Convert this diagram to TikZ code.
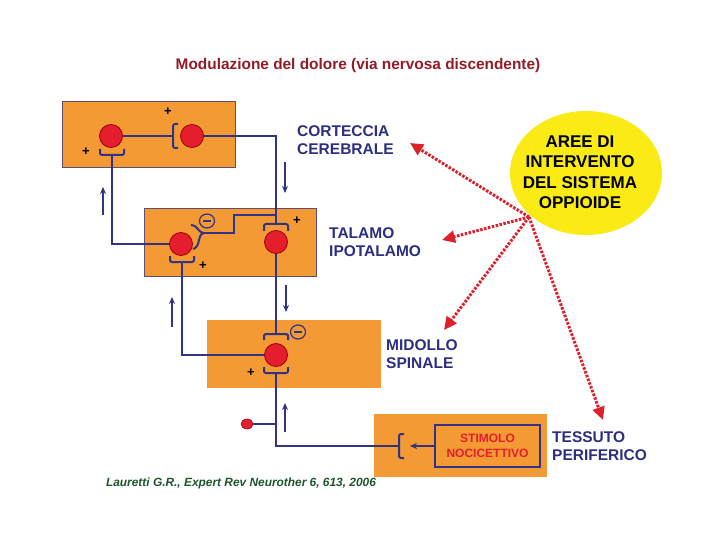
\documentclass[tikz,border=0pt]{standalone}
\usepackage{fontspec}
\setmainfont{Liberation Sans}
\usetikzlibrary{shapes.geometric,arrows.meta}
\definecolor{orng}{RGB}{243,154,52}
\definecolor{navy}{RGB}{50,50,135}
\definecolor{nred}{RGB}{228,30,45}
\definecolor{lblue}{RGB}{43,47,126}
\definecolor{titlered}{RGB}{145,28,40}
\definecolor{cgreen}{RGB}{30,85,45}
\definecolor{yel}{RGB}{250,235,20}
\definecolor{dred}{RGB}{222,32,42}
\begin{document}
\begin{tikzpicture}[x=1pt,y=-1pt,
  box/.style={fill=orng},
  boxb/.style={fill=orng,draw=navy!75!orng,line width=1pt},
  neuron/.style={circle,fill=nred,draw=red!60!black,line width=0.8pt,minimum size=23pt,inner sep=0pt},
  wire/.style={draw=navy,line width=2pt},
  brk/.style={draw=navy,line width=2pt,rounded corners=2pt},
  flow/.style={draw=navy,line width=1.5pt,-{Stealth[length=7pt,width=6pt]}},
  plus/.style={font=\bfseries\fontsize{13}{13}\selectfont,inner sep=0pt},
  minus/.style={ellipse,draw=navy,line width=1.2pt,minimum width=15pt,minimum height=14pt,inner sep=0pt},
  minusbar/.style={draw=navy,line width=2pt},
  lbl/.style={anchor=west,align=left,text=lblue,font=\fontsize{15.5}{18}\selectfont\bfseries,inner sep=0pt},
  opparrow/.style={draw=dred,line width=3pt,dash pattern=on 2.5pt off 1.5pt,-{Triangle[length=13pt,width=12pt]}}
]
\useasboundingbox (0,0) rectangle (720,540);
\fill[white] (0,0) rectangle (720,540);

% title
\node[font=\fontsize{15.4}{17}\selectfont\bfseries,text=titlered] (title) at (358,66) {Modulazione del dolore (via nervosa discendente)};

% boxes
\fill[boxb] (62,102) rectangle (235,168);
\fill[boxb] (144,209) rectangle (316,276);
\fill[box] (207,320) rectangle (381,388);
\fill[box] (374,414) rectangle (547,477);

% neurons
\node[neuron] (c1a) at (111,136) {};
\node[neuron] (c1b) at (192,136) {};
\node[neuron] (c2a) at (181,244) {};
\node[neuron] (c2b) at (276,242) {};
\node[neuron] (c3) at (276,355) {};
\node[ellipse,fill=nred,draw=red!60!black,line width=0.6pt,minimum width=12pt,minimum height=10pt,inner sep=0pt] (dot) at (247,424) {};

% box 1
\draw[wire] (c1a.east) -- (173,136);
\draw[brk] (178,124) -- (173,124) -- (173,148) -- (178,148);
\draw[brk] (100,149) -- (100,155) -- (124,155) -- (124,149);
\coordinate (b1) at (112,155);
\draw[wire] (b1) |- (c2a.west);
\coordinate (b2top) at (276,224);
\draw[wire] (c1b.east) -| (b2top);

% box 2
\draw[brk] (264,231) -- (264,224) -- (288,224) -- (288,231);
\draw[draw=navy,line width=2pt] (191,225) .. controls (199,226) and (197,232) .. (204,233) .. controls (197,234) and (201,247) .. (193,249);
\coordinate (inh) at (204,233);
\coordinate (jn) at (276,215);
\draw[wire] (inh) -- (234,233) -- (234,215) -- (jn);
\node[minus] (m1) at (207,221) {};
\draw[minusbar] ([xshift=-4pt]m1.center) -- ([xshift=4pt]m1.center);
\draw[brk] (170,256) -- (170,262) -- (194,262) -- (194,256);
\coordinate (b3) at (182,262);
\draw[wire] (b3) |- (c3.west);
\coordinate (b4top) at (276,334);
\draw[wire] (c2b.south) -- (b4top);

% box 3
\draw[brk] (264,340) -- (264,334) -- (288,334) -- (288,340);
\node[minus] (m2) at (298,332) {};
\draw[minusbar] ([xshift=-4pt]m2.center) -- ([xshift=4pt]m2.center);
\draw[brk] (264,367) -- (264,373) -- (288,373) -- (288,367);
\coordinate (b5) at (276,373);
\coordinate (b6) at (399,446);
\draw[wire] (b5) |- (b6);
\coordinate (jd) at (276,424);
\draw[wire] (dot.east) -- (jd);

% box 4
\draw[brk] (404,434) -- (399,434) -- (399,458) -- (404,458);
\node[draw=navy,line width=2pt,minimum width=105pt,minimum height=42pt,inner sep=0pt,align=center,text=nred,font=\bfseries\fontsize{12}{15}\selectfont] (stim) at (487.5,446) {STIMOLO\\NOCICETTIVO};
\coordinate (ain) at (410,446);
\draw[flow] (stim.west) -- (ain);

% plus signs
\node[plus] at (168,112) {+};
\node[plus] at (86,152) {+};
\node[plus] at (297,221) {+};
\node[plus] at (203,266) {+};
\node[plus] at (251,373) {+};

% flow arrows
\draw[flow] (103,215) -- (103,187);
\draw[flow] (285,162) -- (285,193);
\draw[flow] (172,327) -- (172,297);
\draw[flow] (286,285) -- (286,312);
\draw[flow] (285,432) -- (285,403);

% labels
\node[lbl] (lc) at (297,140) {CORTECCIA\\CEREBRALE};
\node[lbl] (lt) at (329,242) {TALAMO\\IPOTALAMO};
\node[lbl] (lm) at (386,354) {MIDOLLO\\SPINALE};
\node[lbl] (lp) at (552,446) {TESSUTO\\PERIFERICO};

% opioid system
\node[ellipse,fill=yel,minimum width=152pt,minimum height=124pt,inner sep=0pt] (opp) at (586,173) {};
\node[align=center,font=\bfseries\fontsize{17}{20.5}\selectfont,inner sep=0pt] (opptxt) at (580,172) {AREE DI\\INTERVENTO\\DEL SISTEMA\\OPPIOIDE};
\coordinate (o) at (529,217);
\coordinate (t1) at (410,143);
\coordinate (t2) at (442,240);
\coordinate (t3) at (444,330);
\coordinate (t4) at (603,420);
\draw[opparrow] (o) -- (t1);
\draw[opparrow] (o) -- (t2);
\draw[opparrow] (o) -- (t3);
\draw[opparrow] (o) -- (t4);

% citation
\node[font=\itshape\bfseries\fontsize{11.9}{13}\selectfont,text=cgreen] (cite) at (241,483) {Lauretti G.R., Expert Rev Neurother 6, 613, 2006};
\end{tikzpicture}
\end{document}
